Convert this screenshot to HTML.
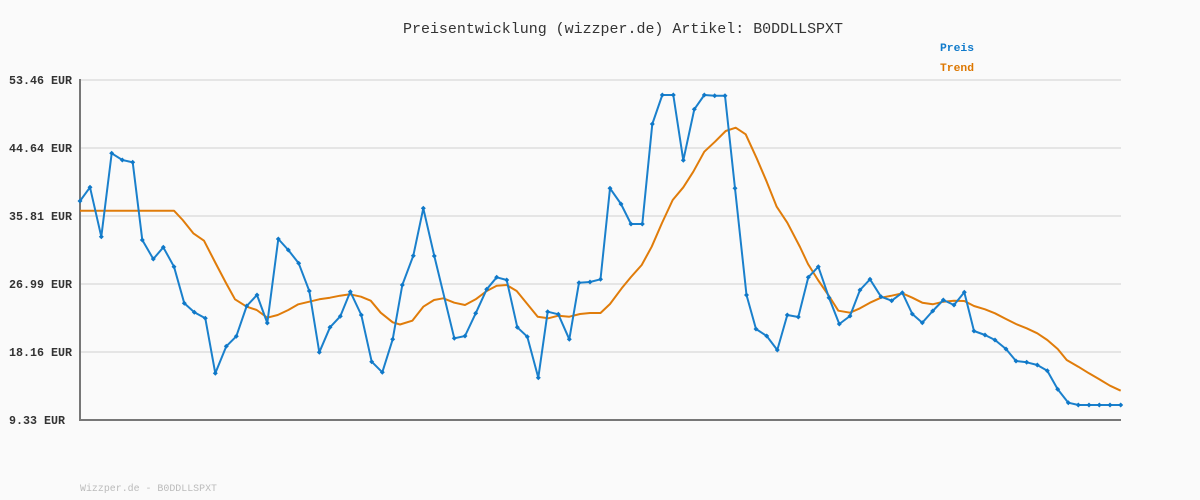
<!DOCTYPE html>
<html><head><meta charset="utf-8"><style>
html,body{margin:0;padding:0;background:#fafafa;}
svg{display:block;}
text{font-family:"Liberation Mono","DejaVu Sans Mono",monospace;}
</style></head><body>
<svg width="1200" height="500" viewBox="0 0 1200 500" xmlns="http://www.w3.org/2000/svg">
<rect width="1200" height="500" fill="#fafafa"/>
<g stroke="#e5e5e5" stroke-width="2">
<line x1="81" y1="80" x2="1121" y2="80"/>
<line x1="81" y1="148" x2="1121" y2="148"/>
<line x1="81" y1="216" x2="1121" y2="216"/>
<line x1="81" y1="284" x2="1121" y2="284"/>
<line x1="81" y1="352" x2="1121" y2="352"/>
</g>
<g stroke="#777" stroke-width="2">
<line x1="80" y1="79" x2="80" y2="421"/>
<line x1="79" y1="420" x2="1121" y2="420"/>
</g>
<text x="403" y="33" font-size="14.7" fill="#333" textLength="440" lengthAdjust="spacingAndGlyphs">Preisentwicklung (wizzper.de) Artikel: B0DDLLSPXT</text>
<g font-size="11.7" font-weight="bold" fill="#333">
<text x="9" y="84" textLength="63" lengthAdjust="spacingAndGlyphs">53.46 EUR</text>
<text x="9" y="152" textLength="63" lengthAdjust="spacingAndGlyphs">44.64 EUR</text>
<text x="9" y="220" textLength="63" lengthAdjust="spacingAndGlyphs">35.81 EUR</text>
<text x="9" y="288" textLength="63" lengthAdjust="spacingAndGlyphs">26.99 EUR</text>
<text x="9" y="356" textLength="63" lengthAdjust="spacingAndGlyphs">18.16 EUR</text>
<text x="9" y="424" textLength="56" lengthAdjust="spacingAndGlyphs">9.33 EUR</text>
</g>
<text x="940" y="51" font-size="11.3" font-weight="bold" fill="#0f7acb" textLength="34" lengthAdjust="spacingAndGlyphs">Preis</text>
<text x="940" y="71" font-size="11.3" font-weight="bold" fill="#dd7700" textLength="34" lengthAdjust="spacingAndGlyphs">Trend</text>
<text x="80" y="491" font-size="10.5" fill="#bbb" textLength="137" lengthAdjust="spacingAndGlyphs">Wizzper.de - B0DDLLSPXT</text>
<polyline fill="none" stroke="#e07c0a" stroke-width="2" stroke-linejoin="round" points="80,210.7 174,210.7 182.7,220 193.3,233.3 204,240.7 215.5,263 226,283 235,299.3 246.7,306.7 256.7,310 267.3,317.7 277.7,315 288.3,310 298.3,304.3 309.3,301.7 319.3,299.3 330,297.7 340,295.7 350,294.3 361,296.7 370.7,300.7 380.7,312.7 392.7,322.3 400,324.5 412.3,320.7 423.3,306.7 434,300 443.3,298.3 454.3,302.7 465,305 475.7,299.3 486.7,291 496.7,285.7 506.7,285 516.7,291 527.3,304 537.7,316.7 548.3,318.3 558.3,315.7 569.3,316.7 580,314 590,313 600.5,313 610,304 621.7,288.3 631,277 641.7,265 651.7,246.7 662,223 672.7,200 683.3,187.3 693.3,171.7 704.3,151.7 715,141.7 725.7,131 735.7,127.7 745.7,134.3 756.7,158.3 766.7,181.7 776.7,206.7 787.3,222.7 800,247 808,264 818,280 829,296 838.3,310.7 850,312.7 860,308.3 870,302.7 881,297.7 891.7,295.7 902.3,293.3 912.3,297.7 922.3,302.7 932.7,304.3 943.3,301.7 954,300.7 964.3,301 974,306 985,309.3 995,313.3 1006,319 1016,324 1026.7,328.3 1037.3,333.3 1047.3,340 1057.7,349 1066.7,360 1078.3,366.7 1089,373.3 1099.3,379.3 1110,385.7 1120.7,390.7"/>
<polyline fill="none" stroke="#1a80cc" stroke-width="2" stroke-linejoin="round" points="80,201 90,187.3 101.3,236.7 111.7,153.3 122.3,160 132.7,162.3 142.3,240 153.3,259 163.3,247.3 174,266.7 184.3,303.3 194.3,312.3 205.3,318.3 215.3,373.3 226.3,346.3 236.3,336.3 246.7,306 257,295 267.3,323 278.3,239 288.3,250 298.7,263.3 309.3,291 319.3,352.3 330,327.3 340.3,316.3 350.3,291.7 361.3,315 371.7,361.7 382.3,372.3 392.7,339.3 402.3,285 413.3,255.7 423.3,208.3 434.3,256 454.3,338.3 465,336 475.7,313.3 486.7,289.3 496.7,277.3 506.7,280 517.3,327.3 527.3,336.7 538.3,377.7 547.7,311.7 558.3,314.3 569.3,339.3 579,282.7 590,282 600.5,279.3 610,188.3 621,204 631,224 642.3,224 652.3,124 662.3,95 673.3,95 683.3,160.3 694.3,109.3 704.3,95 714.7,95.7 725,95.7 735,188.3 746.5,295 756,329 766.7,336 777.3,350 787.3,315 798.3,317 808.3,277.3 818.3,266.7 829,297.7 839.3,324 850,316 860,290 870,279.3 881,296.7 891.7,300.7 902.3,292.7 912.3,314 922.3,322.7 932.7,311 943.3,300 954,305 964.3,292.3 974,331 985,335 995,340 1006,349 1016,361 1026.7,362.3 1037.3,365 1047.3,370.7 1057.7,389.3 1068.3,402.7 1078.3,405 1089,405 1099.3,405 1110,405 1120.7,405"/>
<g fill="#0f78c8">
<path d="M80,201m-2.5,0l2.5,-2.5l2.5,2.5l-2.5,2.5z M90,187.3m-2.5,0l2.5,-2.5l2.5,2.5l-2.5,2.5z M101.3,236.7m-2.5,0l2.5,-2.5l2.5,2.5l-2.5,2.5z M111.7,153.3m-2.5,0l2.5,-2.5l2.5,2.5l-2.5,2.5z M122.3,160m-2.5,0l2.5,-2.5l2.5,2.5l-2.5,2.5z M132.7,162.3m-2.5,0l2.5,-2.5l2.5,2.5l-2.5,2.5z M142.3,240m-2.5,0l2.5,-2.5l2.5,2.5l-2.5,2.5z M153.3,259m-2.5,0l2.5,-2.5l2.5,2.5l-2.5,2.5z M163.3,247.3m-2.5,0l2.5,-2.5l2.5,2.5l-2.5,2.5z M174,266.7m-2.5,0l2.5,-2.5l2.5,2.5l-2.5,2.5z M184.3,303.3m-2.5,0l2.5,-2.5l2.5,2.5l-2.5,2.5z M194.3,312.3m-2.5,0l2.5,-2.5l2.5,2.5l-2.5,2.5z M205.3,318.3m-2.5,0l2.5,-2.5l2.5,2.5l-2.5,2.5z M215.3,373.3m-2.5,0l2.5,-2.5l2.5,2.5l-2.5,2.5z M226.3,346.3m-2.5,0l2.5,-2.5l2.5,2.5l-2.5,2.5z M236.3,336.3m-2.5,0l2.5,-2.5l2.5,2.5l-2.5,2.5z M246.7,306m-2.5,0l2.5,-2.5l2.5,2.5l-2.5,2.5z M257,295m-2.5,0l2.5,-2.5l2.5,2.5l-2.5,2.5z M267.3,323m-2.5,0l2.5,-2.5l2.5,2.5l-2.5,2.5z M278.3,239m-2.5,0l2.5,-2.5l2.5,2.5l-2.5,2.5z M288.3,250m-2.5,0l2.5,-2.5l2.5,2.5l-2.5,2.5z M298.7,263.3m-2.5,0l2.5,-2.5l2.5,2.5l-2.5,2.5z M309.3,291m-2.5,0l2.5,-2.5l2.5,2.5l-2.5,2.5z M319.3,352.3m-2.5,0l2.5,-2.5l2.5,2.5l-2.5,2.5z M330,327.3m-2.5,0l2.5,-2.5l2.5,2.5l-2.5,2.5z M340.3,316.3m-2.5,0l2.5,-2.5l2.5,2.5l-2.5,2.5z M350.3,291.7m-2.5,0l2.5,-2.5l2.5,2.5l-2.5,2.5z M361.3,315m-2.5,0l2.5,-2.5l2.5,2.5l-2.5,2.5z M371.7,361.7m-2.5,0l2.5,-2.5l2.5,2.5l-2.5,2.5z M382.3,372.3m-2.5,0l2.5,-2.5l2.5,2.5l-2.5,2.5z M392.7,339.3m-2.5,0l2.5,-2.5l2.5,2.5l-2.5,2.5z M402.3,285m-2.5,0l2.5,-2.5l2.5,2.5l-2.5,2.5z M413.3,255.7m-2.5,0l2.5,-2.5l2.5,2.5l-2.5,2.5z M423.3,208.3m-2.5,0l2.5,-2.5l2.5,2.5l-2.5,2.5z M434.3,256m-2.5,0l2.5,-2.5l2.5,2.5l-2.5,2.5z M454.3,338.3m-2.5,0l2.5,-2.5l2.5,2.5l-2.5,2.5z M465,336m-2.5,0l2.5,-2.5l2.5,2.5l-2.5,2.5z M475.7,313.3m-2.5,0l2.5,-2.5l2.5,2.5l-2.5,2.5z M486.7,289.3m-2.5,0l2.5,-2.5l2.5,2.5l-2.5,2.5z M496.7,277.3m-2.5,0l2.5,-2.5l2.5,2.5l-2.5,2.5z M506.7,280m-2.5,0l2.5,-2.5l2.5,2.5l-2.5,2.5z M517.3,327.3m-2.5,0l2.5,-2.5l2.5,2.5l-2.5,2.5z M527.3,336.7m-2.5,0l2.5,-2.5l2.5,2.5l-2.5,2.5z M538.3,377.7m-2.5,0l2.5,-2.5l2.5,2.5l-2.5,2.5z M547.7,311.7m-2.5,0l2.5,-2.5l2.5,2.5l-2.5,2.5z M558.3,314.3m-2.5,0l2.5,-2.5l2.5,2.5l-2.5,2.5z M569.3,339.3m-2.5,0l2.5,-2.5l2.5,2.5l-2.5,2.5z M579,282.7m-2.5,0l2.5,-2.5l2.5,2.5l-2.5,2.5z M590,282m-2.5,0l2.5,-2.5l2.5,2.5l-2.5,2.5z M600.5,279.3m-2.5,0l2.5,-2.5l2.5,2.5l-2.5,2.5z M610,188.3m-2.5,0l2.5,-2.5l2.5,2.5l-2.5,2.5z M621,204m-2.5,0l2.5,-2.5l2.5,2.5l-2.5,2.5z M631,224m-2.5,0l2.5,-2.5l2.5,2.5l-2.5,2.5z M642.3,224m-2.5,0l2.5,-2.5l2.5,2.5l-2.5,2.5z M652.3,124m-2.5,0l2.5,-2.5l2.5,2.5l-2.5,2.5z M662.3,95m-2.5,0l2.5,-2.5l2.5,2.5l-2.5,2.5z M673.3,95m-2.5,0l2.5,-2.5l2.5,2.5l-2.5,2.5z M683.3,160.3m-2.5,0l2.5,-2.5l2.5,2.5l-2.5,2.5z M694.3,109.3m-2.5,0l2.5,-2.5l2.5,2.5l-2.5,2.5z M704.3,95m-2.5,0l2.5,-2.5l2.5,2.5l-2.5,2.5z M714.7,95.7m-2.5,0l2.5,-2.5l2.5,2.5l-2.5,2.5z M725,95.7m-2.5,0l2.5,-2.5l2.5,2.5l-2.5,2.5z M735,188.3m-2.5,0l2.5,-2.5l2.5,2.5l-2.5,2.5z M746.5,295m-2.5,0l2.5,-2.5l2.5,2.5l-2.5,2.5z M756,329m-2.5,0l2.5,-2.5l2.5,2.5l-2.5,2.5z M766.7,336m-2.5,0l2.5,-2.5l2.5,2.5l-2.5,2.5z M777.3,350m-2.5,0l2.5,-2.5l2.5,2.5l-2.5,2.5z M787.3,315m-2.5,0l2.5,-2.5l2.5,2.5l-2.5,2.5z M798.3,317m-2.5,0l2.5,-2.5l2.5,2.5l-2.5,2.5z M808.3,277.3m-2.5,0l2.5,-2.5l2.5,2.5l-2.5,2.5z M818.3,266.7m-2.5,0l2.5,-2.5l2.5,2.5l-2.5,2.5z M829,297.7m-2.5,0l2.5,-2.5l2.5,2.5l-2.5,2.5z M839.3,324m-2.5,0l2.5,-2.5l2.5,2.5l-2.5,2.5z M850,316m-2.5,0l2.5,-2.5l2.5,2.5l-2.5,2.5z M860,290m-2.5,0l2.5,-2.5l2.5,2.5l-2.5,2.5z M870,279.3m-2.5,0l2.5,-2.5l2.5,2.5l-2.5,2.5z M881,296.7m-2.5,0l2.5,-2.5l2.5,2.5l-2.5,2.5z M891.7,300.7m-2.5,0l2.5,-2.5l2.5,2.5l-2.5,2.5z M902.3,292.7m-2.5,0l2.5,-2.5l2.5,2.5l-2.5,2.5z M912.3,314m-2.5,0l2.5,-2.5l2.5,2.5l-2.5,2.5z M922.3,322.7m-2.5,0l2.5,-2.5l2.5,2.5l-2.5,2.5z M932.7,311m-2.5,0l2.5,-2.5l2.5,2.5l-2.5,2.5z M943.3,300m-2.5,0l2.5,-2.5l2.5,2.5l-2.5,2.5z M954,305m-2.5,0l2.5,-2.5l2.5,2.5l-2.5,2.5z M964.3,292.3m-2.5,0l2.5,-2.5l2.5,2.5l-2.5,2.5z M974,331m-2.5,0l2.5,-2.5l2.5,2.5l-2.5,2.5z M985,335m-2.5,0l2.5,-2.5l2.5,2.5l-2.5,2.5z M995,340m-2.5,0l2.5,-2.5l2.5,2.5l-2.5,2.5z M1006,349m-2.5,0l2.5,-2.5l2.5,2.5l-2.5,2.5z M1016,361m-2.5,0l2.5,-2.5l2.5,2.5l-2.5,2.5z M1026.7,362.3m-2.5,0l2.5,-2.5l2.5,2.5l-2.5,2.5z M1037.3,365m-2.5,0l2.5,-2.5l2.5,2.5l-2.5,2.5z M1047.3,370.7m-2.5,0l2.5,-2.5l2.5,2.5l-2.5,2.5z M1057.7,389.3m-2.5,0l2.5,-2.5l2.5,2.5l-2.5,2.5z M1068.3,402.7m-2.5,0l2.5,-2.5l2.5,2.5l-2.5,2.5z M1078.3,405m-2.5,0l2.5,-2.5l2.5,2.5l-2.5,2.5z M1089,405m-2.5,0l2.5,-2.5l2.5,2.5l-2.5,2.5z M1099.3,405m-2.5,0l2.5,-2.5l2.5,2.5l-2.5,2.5z M1110,405m-2.5,0l2.5,-2.5l2.5,2.5l-2.5,2.5z M1120.7,405m-2.5,0l2.5,-2.5l2.5,2.5l-2.5,2.5z"/>
</g>
</svg>
</body></html>
